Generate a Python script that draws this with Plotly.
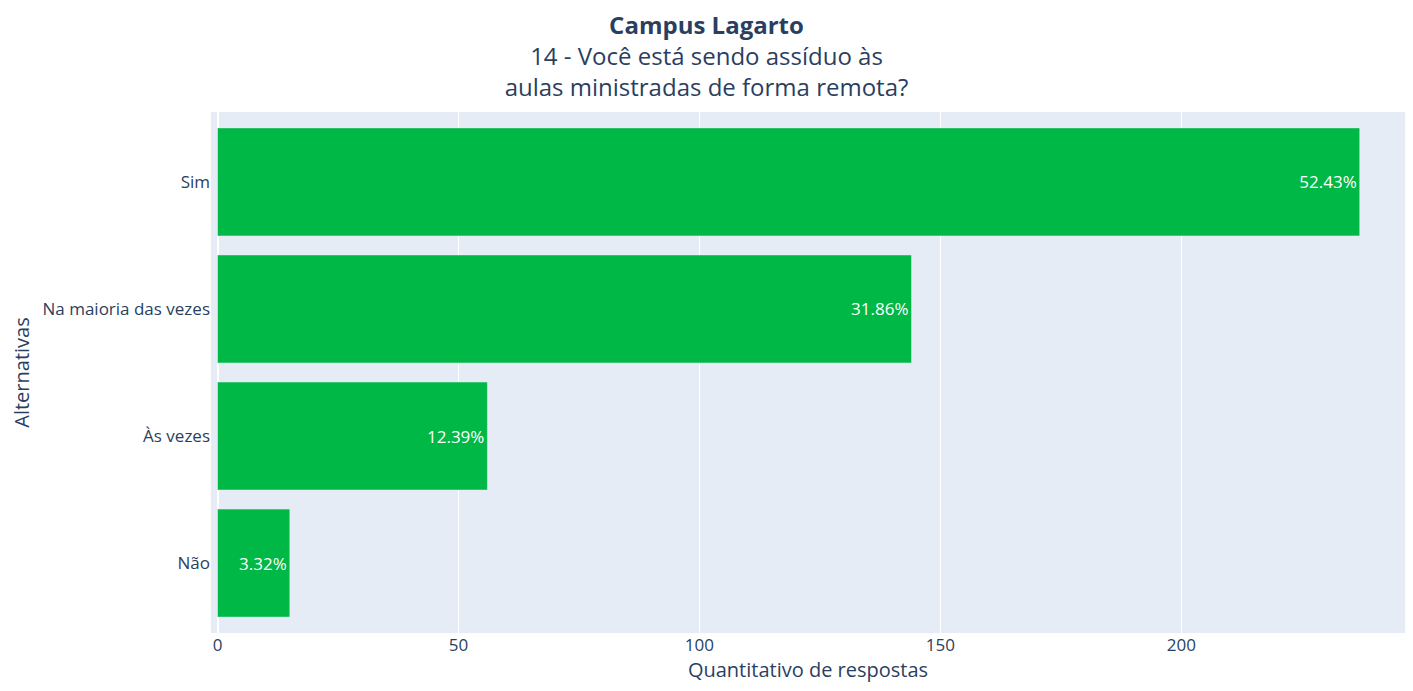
import plotly.graph_objects as go

# Respostas por alternativa (de baixo para cima no gráfico)
alternativas = ["Não", "Às vezes", "Na maioria das vezes", "Sim"]
respostas = [15, 56, 144, 237]

total = sum(respostas)
percentuais = [f"{v / total * 100:.2f}%" for v in respostas]

fig = go.Figure(data=[go.Bar(
    y=alternativas,
    x=respostas,
    orientation='h',
    text=percentuais,
    textposition='inside',
    insidetextanchor='end',
    textfont=dict(color='white', size=17),
    marker=dict(color='#00B846'),
    width=0.85,
)])

# página tem margem de 8px no body, por isso a figura é 16px menor que a janela
fig.update_layout(
    template='plotly',
    width=1397,
    height=675,
    font=dict(family='Open Sans', color='#2a3f5f'),
    title=dict(
        text="<b>Campus Lagarto</b><br>14 - Você está sendo assíduo às<br>aulas ministradas de forma remota?",
        x=0.5,
        xanchor='center',
        y=0.962,
        yanchor='top',
        font=dict(size=24),
    ),
    margin=dict(l=203, r=0, t=104, b=50),
    xaxis=dict(
        title=dict(text="Quantitativo de respostas", font=dict(size=20)),
        range=[-1.35, 246.4],
        tickfont=dict(size=17),
        automargin=False,
    ),
    yaxis=dict(
        title=dict(text="Alternativas", font=dict(size=20)),
        range=[-0.55, 3.55],
        tickfont=dict(size=17),
        automargin=False,
    ),
    showlegend=False,
)

fig.write_html("out.html")
